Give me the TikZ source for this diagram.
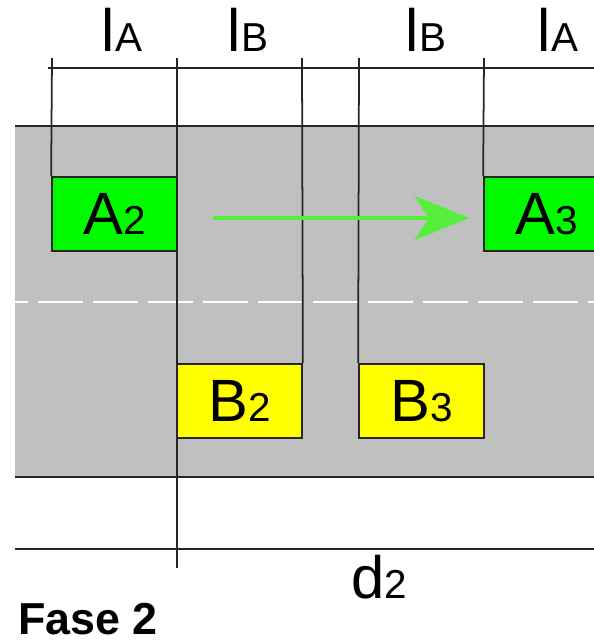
\documentclass[tikz,border=0pt]{standalone}
\usepackage{fontspec}
\setmainfont{Liberation Sans}
\usetikzlibrary{arrows.meta}
\definecolor{roadgray}{RGB}{192,192,192}
\definecolor{boxgreen}{RGB}{0,250,0}
\definecolor{boxyellow}{RGB}{255,255,0}
\definecolor{movegreen}{RGB}{85,238,60}
\newcommand{\biglbl}[2]{{\fontsize{34}{34}\selectfont #1}{\fontsize{23}{23}\selectfont #2}}

\begin{document}
\begin{tikzpicture}[x=0.02cm, y=-0.02cm,
		line/.style={line width=1pt, color=black!85},
		box/.style={draw=black!85, line width=1pt, minimum width=2.5cm, minimum height=1.48cm, inner sep=0pt},
		movearrow/.style={line width=2.6pt, color=movegreen, -{Stealth[length=31pt, width=25pt, inset=8pt]}}]
		%%%%% START %%%%%
		\useasboundingbox (0,0) rectangle (594,642);
		\clip (0,0) rectangle (594,642);
		
		\fill[roadgray] (15,126) rectangle (594,477);
		\draw[line] (15,126) -- (594,126);
		\draw[line] (15,477) -- (594,477);
		\draw[white, line width=1.6pt, dash pattern=on 0.9cm off 0.2cm, dash phase=0.64cm] (15,302) -- (594,302);
		
		\node[box, fill=boxgreen] (A2) at (114.5,214) {\biglbl{A}{2}};
		\node[box, fill=boxyellow] (B2) at (239.5,401) {\biglbl{B}{2}};
		\node[box, fill=boxyellow] (B3) at (421.5,401) {\biglbl{B}{3}};
		\node[box, fill=boxgreen] (A3) at (546.5,214) {\biglbl{A}{3}};
		
		\draw[line] (48,68) -- (594,68);
		\draw[line] (52,58) -- (A2.north west);
		\draw[line] (177,58) -- (177,568);
		\draw[line] (302,58) -- (B2.north east);
		\draw[line] (359,58) -- (B3.north west);
		\draw[line] (484,58) -- (A3.north west);
		\draw[line] (15,549) -- (594,549);
		
		\draw[movearrow, shorten <=0.7cm, shorten >=0.28cm] ([yshift=-0.08cm]A2.east) -- ([yshift=-0.08cm]A3.west);
		
		\node[anchor=base] (lA1) at (122,52) {\biglbl{l}{A}};
		\node[anchor=base] (lB1) at (248,52) {\biglbl{l}{B}};
		\node[anchor=base] (lB2) at (426,52) {\biglbl{l}{B}};
		\node[anchor=base] (lA2) at (558,52) {\biglbl{l}{A}};
		\node[anchor=base] (d2) at (379,598) {\biglbl{d}{2}};
		\node[anchor=base west, inner sep=0pt] (fase) at (18,634) {\fontsize{25.5}{26}\selectfont\bfseries Fase 2};
		%%%%% END %%%%%
\end{tikzpicture}
\end{document}
